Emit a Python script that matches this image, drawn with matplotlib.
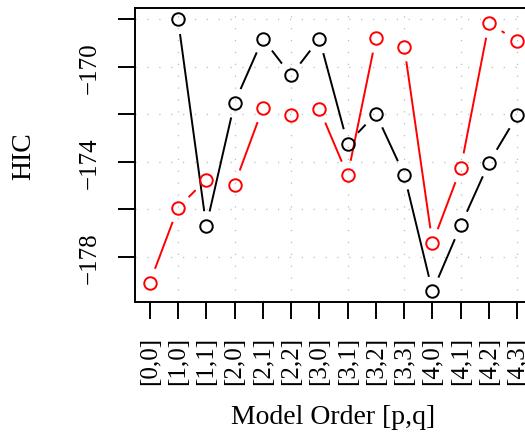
import numpy as np
import matplotlib
matplotlib.use("Agg")
import matplotlib.pyplot as plt

orders = ["[0,0]", "[1,0]", "[1,1]", "[2,0]", "[2,1]", "[2,2]", "[3,0]",
          "[3,1]", "[3,2]", "[3,3]", "[4,0]", "[4,1]", "[4,2]", "[4,3]"]
hic_black = [np.nan, -167.99, -176.70, -171.51, -168.81, -170.36, -168.81,
             -173.23, -171.97, -174.54, -179.45, -176.67, -174.03, -172.04]
hic_red = [-179.09, -175.93, -174.74, -174.95, -171.73, -172.04, -171.76,
           -174.57, -168.78, -169.14, -177.42, -174.26, -168.15, -168.91]
yticks = [-178, -176, -174, -172, -170, -168]
ytick_labels = ["\u2212178", "", "\u2212174", "", "\u2212170", ""]

plt.rcParams["font.family"] = ["Liberation Serif", "DejaVu Serif"]

fig = plt.figure(figsize=(5.25, 4.35), dpi=100)
W, H = 525, 435
# plot region (pixels): left 135, right 532 (slightly past the edge), top 9.3, bottom 303.3
ax = fig.add_axes([135 / W, (H - 303.3) / H, (532 - 135) / W, (303.3 - 9.3) / H])

x = np.arange(len(orders))
allv = np.array([v for v in hic_black + hic_red if not np.isnan(v)])
lo, hi = allv.min(), allv.max()
pad = 0.04 * (hi - lo)
ax.set_ylim(lo - pad, hi + pad)
ax.set_xlim(-0.04 * (len(x) - 1), (len(x) - 1) * 1.04)

# grid (like R's grid())
for gy in yticks:
    ax.axhline(gy, color="#bdbdbd", lw=0.9, ls=(0, (1, 8.5)), zorder=0)
for gx in x[1::2]:
    ax.axvline(gx, color="#bdbdbd", lw=0.9, ls=(0, (1, 8.5)), zorder=0)


def draw_b(vals, color):
    """type='b' style: points plus line segments with gaps around points"""
    vals = np.asarray(vals, dtype=float)
    gap = 15.0
    tr = ax.transData
    inv = tr.inverted()
    for i in range(len(vals) - 1):
        if np.isnan(vals[i]) or np.isnan(vals[i + 1]):
            continue
        p0 = tr.transform((x[i], vals[i]))
        p1 = tr.transform((x[i + 1], vals[i + 1]))
        d = p1 - p0
        L = np.hypot(*d)
        if L <= 2 * gap:
            continue
        u = d / L
        a = inv.transform(p0 + u * gap)
        b = inv.transform(p1 - u * gap)
        ax.plot([a[0], b[0]], [a[1], b[1]], color=color, lw=1.4,
                solid_capstyle="butt", zorder=2)
    ax.plot(x, vals, ls="none", marker="o", ms=9.0, mfc="none",
            mec=color, mew=1.4, zorder=3)


draw_b(hic_black, "black")
draw_b(hic_red, "red")

ax.set_xticks(x)
ax.set_xticklabels(orders, rotation=90, fontsize=18)
ax.set_yticks(yticks)
ax.set_yticklabels(ytick_labels, rotation=90, va="center", fontsize=18)
ax.tick_params(axis="both", length=12, width=1.4, direction="out")
ax.tick_params(axis="x", pad=12)
ax.tick_params(axis="y", pad=13)
for s in ax.spines.values():
    s.set_linewidth(1.4)

ax.set_xlabel("Model Order [p,q]", fontsize=20)
ax.set_ylabel("HIC", fontsize=20)
ax.xaxis.set_label_coords(0.4987, -0.39)
ax.xaxis.label.set_va("center")
ax.yaxis.set_label_coords(-0.2796, 0.5)
ax.yaxis.label.set_va("center")

fig.savefig("out.png", dpi=100)
